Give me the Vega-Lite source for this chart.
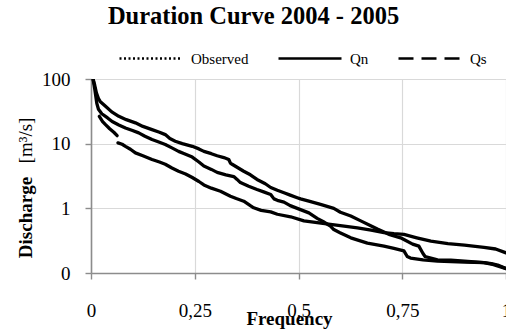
{
  "$schema": "https://vega.github.io/schema/vega-lite/v6.json",
  "autosize": {"type": "none"},
  "width": 415,
  "height": 194,
  "padding": {"left": 91, "top": 79, "right": 0, "bottom": 59},
  "background": "white",
  "title": {
    "text": "Duration Curve 2004 - 2005",
    "font": "Liberation Serif",
    "fontSize": 24.5,
    "fontWeight": "bold",
    "color": "black",
    "anchor": "middle",
    "frame": "group",
    "dx": -45,
    "dy": 23,
    "baseline": "alphabetic",
    "offset": 0
  },
  "config": {
    "view": {"stroke": null},
    "axis": {
      "labelFont": "Liberation Serif",
      "titleFont": "Liberation Serif",
      "labelColor": "black",
      "titleColor": "black",
      "labelFontSize": 19,
      "titleFontSize": 19,
      "gridColor": "#d9d9d9",
      "gridWidth": 1.2,
      "domainColor": "#8c8c8c",
      "domainWidth": 1.6,
      "tickColor": "#8c8c8c",
      "tickWidth": 1.4
    },
    "legend": {
      "labelFont": "Liberation Serif",
      "labelFontSize": 15,
      "labelColor": "black"
    }
  },
  "datasets": {
    "curves": [
      {"s": "Observed", "seg": 1, "f": 0.005, "q": 100},
      {"s": "Observed", "seg": 1, "f": 0.009, "q": 80},
      {"s": "Observed", "seg": 1, "f": 0.013, "q": 61},
      {"s": "Observed", "seg": 1, "f": 0.018, "q": 50},
      {"s": "Observed", "seg": 1, "f": 0.022, "q": 45},
      {"s": "Observed", "seg": 1, "f": 0.035, "q": 38},
      {"s": "Observed", "seg": 1, "f": 0.05, "q": 31},
      {"s": "Observed", "seg": 1, "f": 0.067, "q": 26.5},
      {"s": "Observed", "seg": 1, "f": 0.085, "q": 23.5},
      {"s": "Observed", "seg": 1, "f": 0.107, "q": 21},
      {"s": "Observed", "seg": 1, "f": 0.125, "q": 18.5},
      {"s": "Observed", "seg": 1, "f": 0.147, "q": 16.5},
      {"s": "Observed", "seg": 1, "f": 0.165, "q": 15},
      {"s": "Observed", "seg": 1, "f": 0.179, "q": 13.8},
      {"s": "Observed", "seg": 1, "f": 0.19, "q": 12},
      {"s": "Observed", "seg": 1, "f": 0.203, "q": 10.9},
      {"s": "Observed", "seg": 1, "f": 0.22, "q": 10},
      {"s": "Observed", "seg": 1, "f": 0.244, "q": 9.1},
      {"s": "Observed", "seg": 1, "f": 0.26, "q": 8.3},
      {"s": "Observed", "seg": 1, "f": 0.272, "q": 7.6},
      {"s": "Observed", "seg": 1, "f": 0.29, "q": 7},
      {"s": "Observed", "seg": 1, "f": 0.304, "q": 6.5},
      {"s": "Observed", "seg": 1, "f": 0.32, "q": 6.1},
      {"s": "Observed", "seg": 1, "f": 0.332, "q": 5.7},
      {"s": "Observed", "seg": 1, "f": 0.336, "q": 5.0},
      {"s": "Observed", "seg": 1, "f": 0.34, "q": 4.8},
      {"s": "Observed", "seg": 1, "f": 0.368, "q": 3.75},
      {"s": "Observed", "seg": 1, "f": 0.384, "q": 3.3},
      {"s": "Observed", "seg": 1, "f": 0.4, "q": 2.8},
      {"s": "Observed", "seg": 1, "f": 0.42, "q": 2.4},
      {"s": "Observed", "seg": 1, "f": 0.433, "q": 2.1},
      {"s": "Observed", "seg": 1, "f": 0.449, "q": 1.9},
      {"s": "Observed", "seg": 1, "f": 0.465, "q": 1.74},
      {"s": "Observed", "seg": 1, "f": 0.48, "q": 1.6},
      {"s": "Observed", "seg": 1, "f": 0.497, "q": 1.46},
      {"s": "Observed", "seg": 1, "f": 0.505, "q": 1.4},
      {"s": "Observed", "seg": 1, "f": 0.525, "q": 1.29},
      {"s": "Observed", "seg": 1, "f": 0.553, "q": 1.15},
      {"s": "Observed", "seg": 1, "f": 0.585, "q": 1.0},
      {"s": "Observed", "seg": 1, "f": 0.601, "q": 0.87},
      {"s": "Observed", "seg": 1, "f": 0.626, "q": 0.76},
      {"s": "Observed", "seg": 1, "f": 0.65, "q": 0.64},
      {"s": "Observed", "seg": 1, "f": 0.674, "q": 0.54},
      {"s": "Observed", "seg": 1, "f": 0.69, "q": 0.48},
      {"s": "Observed", "seg": 1, "f": 0.706, "q": 0.43},
      {"s": "Observed", "seg": 1, "f": 0.72, "q": 0.39},
      {"s": "Observed", "seg": 1, "f": 0.746, "q": 0.35},
      {"s": "Observed", "seg": 1, "f": 0.754, "q": 0.33},
      {"s": "Observed", "seg": 1, "f": 0.775, "q": 0.28},
      {"s": "Observed", "seg": 1, "f": 0.79, "q": 0.26},
      {"s": "Observed", "seg": 1, "f": 0.8, "q": 0.2},
      {"s": "Observed", "seg": 1, "f": 0.805, "q": 0.18},
      {"s": "Observed", "seg": 1, "f": 0.835, "q": 0.16},
      {"s": "Observed", "seg": 1, "f": 0.867, "q": 0.158},
      {"s": "Observed", "seg": 1, "f": 0.9, "q": 0.152},
      {"s": "Observed", "seg": 1, "f": 0.947, "q": 0.145},
      {"s": "Observed", "seg": 1, "f": 0.965, "q": 0.14},
      {"s": "Observed", "seg": 1, "f": 0.98, "q": 0.133},
      {"s": "Observed", "seg": 1, "f": 1.0, "q": 0.117},
      {"s": "Qn", "seg": 1, "f": 0.005, "q": 100},
      {"s": "Qn", "seg": 1, "f": 0.009, "q": 70},
      {"s": "Qn", "seg": 1, "f": 0.014, "q": 42},
      {"s": "Qn", "seg": 1, "f": 0.018, "q": 34},
      {"s": "Qn", "seg": 1, "f": 0.026, "q": 29},
      {"s": "Qn", "seg": 1, "f": 0.04, "q": 25},
      {"s": "Qn", "seg": 1, "f": 0.051, "q": 22},
      {"s": "Qn", "seg": 1, "f": 0.067, "q": 19.5},
      {"s": "Qn", "seg": 1, "f": 0.083, "q": 17.5},
      {"s": "Qn", "seg": 1, "f": 0.1, "q": 16},
      {"s": "Qn", "seg": 1, "f": 0.115, "q": 14.7},
      {"s": "Qn", "seg": 1, "f": 0.13, "q": 13},
      {"s": "Qn", "seg": 1, "f": 0.147, "q": 11.6},
      {"s": "Qn", "seg": 1, "f": 0.165, "q": 10.5},
      {"s": "Qn", "seg": 1, "f": 0.179, "q": 9.7},
      {"s": "Qn", "seg": 1, "f": 0.195, "q": 8.6},
      {"s": "Qn", "seg": 1, "f": 0.211, "q": 7.6},
      {"s": "Qn", "seg": 1, "f": 0.225, "q": 7},
      {"s": "Qn", "seg": 1, "f": 0.244, "q": 6.2},
      {"s": "Qn", "seg": 1, "f": 0.26, "q": 5.2},
      {"s": "Qn", "seg": 1, "f": 0.272, "q": 4.5},
      {"s": "Qn", "seg": 1, "f": 0.29, "q": 4},
      {"s": "Qn", "seg": 1, "f": 0.304, "q": 3.6},
      {"s": "Qn", "seg": 1, "f": 0.325, "q": 3.3},
      {"s": "Qn", "seg": 1, "f": 0.344, "q": 3.1},
      {"s": "Qn", "seg": 1, "f": 0.352, "q": 2.8},
      {"s": "Qn", "seg": 1, "f": 0.36, "q": 2.5},
      {"s": "Qn", "seg": 1, "f": 0.38, "q": 2.2},
      {"s": "Qn", "seg": 1, "f": 0.4, "q": 1.96},
      {"s": "Qn", "seg": 1, "f": 0.416, "q": 1.8},
      {"s": "Qn", "seg": 1, "f": 0.433, "q": 1.64},
      {"s": "Qn", "seg": 1, "f": 0.441, "q": 1.4},
      {"s": "Qn", "seg": 1, "f": 0.449, "q": 1.33},
      {"s": "Qn", "seg": 1, "f": 0.465, "q": 1.25},
      {"s": "Qn", "seg": 1, "f": 0.48, "q": 1.1},
      {"s": "Qn", "seg": 1, "f": 0.497, "q": 1.0},
      {"s": "Qn", "seg": 1, "f": 0.525, "q": 0.85},
      {"s": "Qn", "seg": 1, "f": 0.545, "q": 0.7},
      {"s": "Qn", "seg": 1, "f": 0.56, "q": 0.62},
      {"s": "Qn", "seg": 1, "f": 0.577, "q": 0.53},
      {"s": "Qn", "seg": 1, "f": 0.585, "q": 0.47},
      {"s": "Qn", "seg": 1, "f": 0.6, "q": 0.42},
      {"s": "Qn", "seg": 1, "f": 0.626, "q": 0.35},
      {"s": "Qn", "seg": 1, "f": 0.666, "q": 0.29},
      {"s": "Qn", "seg": 1, "f": 0.706, "q": 0.26},
      {"s": "Qn", "seg": 1, "f": 0.73, "q": 0.24},
      {"s": "Qn", "seg": 1, "f": 0.754, "q": 0.22},
      {"s": "Qn", "seg": 1, "f": 0.762, "q": 0.18},
      {"s": "Qn", "seg": 1, "f": 0.77, "q": 0.17},
      {"s": "Qn", "seg": 1, "f": 0.8, "q": 0.16},
      {"s": "Qn", "seg": 1, "f": 0.835, "q": 0.153},
      {"s": "Qn", "seg": 1, "f": 0.9, "q": 0.148},
      {"s": "Qn", "seg": 1, "f": 0.947, "q": 0.145},
      {"s": "Qn", "seg": 1, "f": 0.97, "q": 0.135},
      {"s": "Qn", "seg": 1, "f": 1.0, "q": 0.117},
      {"s": "Qs", "seg": 1, "f": 0.02, "q": 26.5},
      {"s": "Qs", "seg": 1, "f": 0.028, "q": 22},
      {"s": "Qs", "seg": 1, "f": 0.035, "q": 19.7},
      {"s": "Qs", "seg": 1, "f": 0.045, "q": 17},
      {"s": "Qs", "seg": 1, "f": 0.055, "q": 15},
      {"s": "Qs", "seg": 1, "f": 0.063, "q": 13.3},
      {"s": "Qs", "seg": 2, "f": 0.065, "q": 10.3},
      {"s": "Qs", "seg": 2, "f": 0.075, "q": 9.8},
      {"s": "Qs", "seg": 2, "f": 0.083, "q": 9.1},
      {"s": "Qs", "seg": 2, "f": 0.095, "q": 8.2},
      {"s": "Qs", "seg": 2, "f": 0.107, "q": 7.2},
      {"s": "Qs", "seg": 2, "f": 0.125, "q": 6.5},
      {"s": "Qs", "seg": 2, "f": 0.147, "q": 5.7},
      {"s": "Qs", "seg": 2, "f": 0.165, "q": 5.2},
      {"s": "Qs", "seg": 2, "f": 0.179, "q": 4.8},
      {"s": "Qs", "seg": 2, "f": 0.195, "q": 4.2},
      {"s": "Qs", "seg": 2, "f": 0.211, "q": 3.75},
      {"s": "Qs", "seg": 2, "f": 0.228, "q": 3.4},
      {"s": "Qs", "seg": 2, "f": 0.244, "q": 3.0},
      {"s": "Qs", "seg": 2, "f": 0.26, "q": 2.6},
      {"s": "Qs", "seg": 2, "f": 0.272, "q": 2.3},
      {"s": "Qs", "seg": 2, "f": 0.29, "q": 2.05},
      {"s": "Qs", "seg": 2, "f": 0.312, "q": 1.84},
      {"s": "Qs", "seg": 2, "f": 0.336, "q": 1.54},
      {"s": "Qs", "seg": 2, "f": 0.35, "q": 1.42},
      {"s": "Qs", "seg": 2, "f": 0.368, "q": 1.29},
      {"s": "Qs", "seg": 2, "f": 0.384, "q": 1.1},
      {"s": "Qs", "seg": 2, "f": 0.392, "q": 1.02},
      {"s": "Qs", "seg": 2, "f": 0.41, "q": 0.93},
      {"s": "Qs", "seg": 2, "f": 0.433, "q": 0.88},
      {"s": "Qs", "seg": 2, "f": 0.449, "q": 0.81},
      {"s": "Qs", "seg": 2, "f": 0.481, "q": 0.74},
      {"s": "Qs", "seg": 2, "f": 0.513, "q": 0.64},
      {"s": "Qs", "seg": 2, "f": 0.545, "q": 0.6},
      {"s": "Qs", "seg": 2, "f": 0.577, "q": 0.565},
      {"s": "Qs", "seg": 2, "f": 0.61, "q": 0.53},
      {"s": "Qs", "seg": 2, "f": 0.642, "q": 0.5},
      {"s": "Qs", "seg": 2, "f": 0.675, "q": 0.46},
      {"s": "Qs", "seg": 2, "f": 0.706, "q": 0.42},
      {"s": "Qs", "seg": 2, "f": 0.73, "q": 0.405},
      {"s": "Qs", "seg": 2, "f": 0.754, "q": 0.395},
      {"s": "Qs", "seg": 2, "f": 0.785, "q": 0.35},
      {"s": "Qs", "seg": 2, "f": 0.819, "q": 0.31},
      {"s": "Qs", "seg": 2, "f": 0.86, "q": 0.285},
      {"s": "Qs", "seg": 2, "f": 0.9, "q": 0.27},
      {"s": "Qs", "seg": 2, "f": 0.947, "q": 0.25},
      {"s": "Qs", "seg": 2, "f": 0.975, "q": 0.235},
      {"s": "Qs", "seg": 2, "f": 1.0, "q": 0.205}
    ]
  },
  "data": {"name": "curves"},
  "resolve": {"axis": {"y": "independent"}},
  "layer": [
    {
      "mark": {"type": "line", "color": "black", "strokeWidth": 3.3, "clip": true, "strokeJoin": "round", "strokeCap": "round"},
      "encoding": {
        "x": {
          "field": "f", "type": "quantitative",
          "scale": {"domain": [0, 1], "nice": false},
          "axis": {
            "values": [0, 0.25, 0.5, 0.75, 1],
            "labelExpr": "replace(toString(datum.value), '.', ',')",
            "tickSize": 6,
            "labelPadding": 37,
            "labelBaseline": "alphabetic",
            "labelFlush": false,
            "title": "Frequency",
            "titleFontWeight": "bold",
            "titleX": 198,
            "titleY": 51,
            "titleBaseline": "alphabetic",
            "titleAnchor": null,
            "titleAlign": "center"
          }
        },
        "y": {
          "field": "q", "type": "quantitative",
          "scale": {"type": "log", "domain": [0.1, 100], "nice": false},
          "axis": {
            "orient": "left",
            "values": [0.1, 1, 10, 100],
            "labelExpr": "datum.value < 0.5 ? '0' : toString(datum.value)",
            "tickSize": 6,
            "labelPadding": 15,
            "labelFlush": false,
            "title": "Discharge",
            "titleFontWeight": "bold",
            "titleAngle": -90,
            "titleX": -66,
            "titleY": 138,
            "titleBaseline": "middle",
            "titleAlign": "center"
          }
        },
        "detail": [{"field": "s"}, {"field": "seg"}]
      }
    },
    {
      "mark": {"type": "line", "color": "black", "opacity": 0, "strokeWidth": 2.5},
      "encoding": {
        "x": {"field": "f", "type": "quantitative", "scale": {"domain": [0, 1], "nice": false}},
        "y": {
          "field": "q", "type": "quantitative",
          "scale": {"type": "log", "domain": [0.1, 100], "nice": false},
          "axis": {
            "orient": "left",
            "labels": false,
            "ticks": false,
            "domain": false,
            "grid": false,
            "title": "[m³/s]",
            "titleFontWeight": "normal",
            "titleAngle": -90,
            "titleX": -66,
            "titleY": 61,
            "titleBaseline": "middle",
            "titleAlign": "center"
          }
        },
        "detail": {"field": "seg"},
        "strokeDash": {
          "field": "s", "type": "nominal",
          "scale": {"domain": ["Observed", "Qn", "Qs"], "range": [[2, 2.5], [1, 0], [15, 8]]},
          "legend": {
            "title": null,
            "orient": "none",
            "direction": "horizontal",
            "legendX": 27,
            "legendY": -53.5,
            "symbolType": "stroke",
            "symbolSize": 3969,
            "symbolStrokeWidth": 2.5,
            "symbolStrokeColor": "black",
            "symbolOpacity": 1,
            "labelOffset": 7,
            "columnPadding": 24
          }
        }
      }
    }
  ]
}
